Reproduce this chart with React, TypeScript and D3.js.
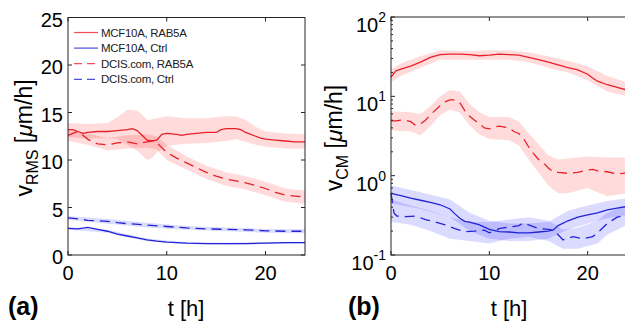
import React, { useEffect, useRef } from "react";
import * as d3 from "d3";

type Pt = [number, number];

// ---- panel (a): v_RMS, linear axis ----
const hourTicks = [0, 10, 20];
const rmsTicks = [0, 5, 10, 15, 20, 25];
const cmExponents = [-1, 0, 1, 2];

const mcfRabRms: Pt[] = [
  [0, 13.2], [0.5, 13.2], [1, 13.0], [1.5, 12.8], [2, 12.9], [3, 13.0], [4, 13.0], [5, 13.1],
  [6, 13.2], [6.5, 13.3], [7, 13.1], [7.5, 12.6], [8, 12.1], [8.5, 12.0], [9, 12.1], [9.5, 12.7],
  [10, 12.8], [11, 12.7], [11.5, 12.6], [12, 12.7], [13, 12.8], [14, 12.9], [15, 12.9], [15.5, 13.2],
  [16, 13.3], [17, 13.3], [17.5, 13.2], [18, 12.9], [19, 12.5], [19.5, 12.3], [20, 12.2], [21, 12.1],
  [22, 12.0], [23, 11.9], [24, 11.9],
];
const mcfRabRmsHi: Pt[] = [
  [0, 13.9], [2, 13.8], [4, 13.9], [5, 14.5], [6, 15.3], [7, 15.2], [7.5, 14.8], [8, 14.2], [9, 14.4],
  [10, 14.6], [12, 14.4], [14, 14.4], [15, 14.5], [16, 14.6], [17, 14.6], [18, 14.2], [19, 13.5],
  [20, 13.0], [22, 12.8], [24, 12.7],
];
const mcfRabRmsLo: Pt[] = [
  [0, 12.4], [2, 12.3], [4, 12.3], [5, 12.2], [6, 11.6], [7, 11.0], [8, 10.0], [8.5, 10.2], [9, 10.8],
  [10, 11.5], [12, 11.7], [14, 11.8], [15, 11.9], [16, 12.0], [17, 12.2], [18, 11.9], [19, 11.6],
  [20, 11.4], [22, 11.2], [24, 11.2],
];

const dcisRabRms: Pt[] = [
  [0, 12.6], [0.5, 12.8], [1, 13.0], [1.5, 12.6], [2, 12.2], [2.5, 11.9], [3, 11.7], [4, 11.6],
  [5, 11.8], [6, 11.9], [7, 11.7], [8, 11.9], [8.5, 12.0], [9, 11.8], [9.5, 11.3], [10, 10.8],
  [11, 10.2], [12, 9.7], [13, 9.2], [14, 8.7], [15, 8.3], [16, 8.0], [17, 7.8], [18, 7.6], [19, 7.3],
  [20, 7.0], [21, 6.6], [22, 6.3], [23, 6.2], [24, 6.1],
];
const dcisRabRmsHi: Pt[] = [
  [0, 13.2], [2, 12.8], [4, 12.3], [6, 12.6], [8, 12.7], [9, 12.5], [10, 11.6], [12, 10.4],
  [14, 9.4], [16, 8.7], [18, 8.3], [20, 7.7], [22, 7.0], [24, 6.8],
];
const dcisRabRmsLo: Pt[] = [
  [0, 12.0], [2, 11.6], [4, 11.0], [6, 11.2], [8, 11.3], [9, 11.1], [10, 10.0], [12, 9.0],
  [14, 8.0], [16, 7.3], [18, 6.9], [20, 6.3], [22, 5.6], [24, 5.4],
];

const mcfCtrlRms: Pt[] = [
  [0, 2.8], [1, 2.75], [2, 2.9], [3, 2.7], [4, 2.5], [5, 2.2], [6, 2.0], [7, 1.8], [8, 1.6],
  [9, 1.45], [10, 1.35], [12, 1.25], [14, 1.2], [16, 1.2], [18, 1.2], [20, 1.25], [22, 1.3], [24, 1.3],
];
const mcfCtrlRmsHi: Pt[] = [
  [0, 2.95], [4, 2.65], [8, 1.75], [12, 1.35], [16, 1.3], [20, 1.35], [24, 1.4],
];
const mcfCtrlRmsLo: Pt[] = [
  [0, 2.65], [4, 2.35], [8, 1.45], [12, 1.15], [16, 1.1], [20, 1.15], [24, 1.2],
];

const dcisCtrlRms: Pt[] = [
  [0, 3.9], [1, 3.8], [2, 3.65], [3, 3.6], [4, 3.55], [5, 3.4], [6, 3.3], [8, 3.15], [10, 3.0],
  [12, 2.85], [14, 2.75], [16, 2.7], [18, 2.65], [20, 2.55], [22, 2.5], [24, 2.5],
];
const dcisCtrlRmsHi: Pt[] = [
  [0, 4.1], [4, 3.8], [8, 3.4], [12, 3.05], [16, 2.9], [20, 2.75], [24, 2.7],
];
const dcisCtrlRmsLo: Pt[] = [
  [0, 3.7], [4, 3.3], [8, 2.9], [12, 2.65], [16, 2.5], [20, 2.35], [24, 2.3],
];

// ---- panel (b): v_CM, log axis ----
const mcfRabCm: Pt[] = [
  [0, 17.5], [0.5, 21], [1, 22], [2, 24], [3, 27], [4, 31], [5, 33.5], [6, 34], [7, 34], [8, 33.5],
  [9, 32.5], [10, 33], [11, 34], [12, 33.5], [13, 33], [14, 31], [15, 29], [16, 27], [17, 25],
  [18, 23], [19, 21.5], [20, 19], [20.5, 17], [21, 15.5], [22, 14], [23, 13], [24, 12],
];
const mcfRabCmHi: Pt[] = [
  [0, 22], [1, 26], [3, 32], [5, 38], [8, 37], [10, 38], [12, 38], [14, 36], [16, 32], [18, 28],
  [20, 24], [22, 18], [24, 15],
];
const mcfRabCmLo: Pt[] = [
  [0, 15], [1, 18], [3, 23], [5, 29], [8, 29], [10, 29], [12, 29], [14, 27], [16, 23], [18, 20],
  [20, 16], [22, 11.5], [24, 10],
];

const dcisRabCm: Pt[] = [
  [0, 4.9], [0.5, 4.9], [1, 5.0], [1.5, 5.0], [2, 4.8], [2.5, 4.3], [3, 4.5], [3.5, 5.0], [4, 5.8],
  [4.5, 6.7], [5, 7.6], [5.5, 8.5], [6, 9.0], [6.5, 9.0], [7, 8.3], [7.5, 6.6], [8, 5.6], [8.5, 5.0],
  [9, 4.5], [9.5, 4.0], [10, 3.9], [10.5, 4.1], [11, 4.2], [12, 4.0], [12.5, 3.6], [13, 3.4],
  [13.5, 2.9], [14, 2.3], [14.5, 1.9], [15, 1.6], [15.5, 1.45], [16, 1.25], [16.5, 1.12], [17, 1.1],
  [18, 1.07], [19, 1.1], [20, 1.18], [20.5, 1.2], [21, 1.15], [22, 1.12], [23, 1.05], [24, 1.08],
];
const dcisRabCmHi: Pt[] = [
  [0, 6.5], [2, 6.3], [3, 6.0], [4, 7.5], [5, 10], [6, 12], [7, 11.5], [8, 8], [9, 6.3], [10, 5.5],
  [12, 5.5], [13, 4.8], [14, 3.4], [15, 2.5], [16, 1.8], [17, 1.6], [18, 1.65], [20, 1.75],
  [22, 1.7], [24, 1.7],
];
const dcisRabCmLo: Pt[] = [
  [0, 3.7], [2, 3.6], [3, 3.2], [4, 4.2], [5, 5.8], [6, 6.8], [7, 6.2], [8, 4.3], [9, 3.3], [10, 2.9],
  [12, 2.8], [13, 2.4], [14, 1.6], [15, 1.1], [16, 0.75], [17, 0.6], [18, 0.6], [20, 0.7],
  [21, 0.62], [22, 0.55], [24, 0.6],
];

const mcfCtrlCm: Pt[] = [
  [0, 0.6], [1, 0.56], [2, 0.52], [3, 0.49], [4, 0.46], [5, 0.43], [6, 0.38], [6.5, 0.33], [7, 0.29],
  [7.5, 0.265], [8, 0.26], [9, 0.24], [9.5, 0.225], [10, 0.21], [11, 0.197], [12, 0.195], [13, 0.19],
  [14, 0.19], [15, 0.195], [16, 0.2], [16.5, 0.207], [17, 0.235], [18, 0.27], [19, 0.3], [20, 0.32],
  [21, 0.34], [22, 0.37], [23, 0.39], [24, 0.41],
];
const mcfCtrlCmHi: Pt[] = [
  [0, 0.75], [3, 0.62], [6, 0.5], [8, 0.34], [10, 0.27], [12, 0.25], [14, 0.25], [16, 0.26],
  [18, 0.36], [20, 0.42], [22, 0.48], [24, 0.52],
];
const mcfCtrlCmLo: Pt[] = [
  [0, 0.45], [3, 0.38], [6, 0.3], [8, 0.2], [10, 0.16], [12, 0.15], [14, 0.15], [16, 0.16],
  [18, 0.21], [20, 0.25], [22, 0.29], [24, 0.32],
];

const dcisCtrlCm: Pt[] = [
  [0, 0.6], [0.3, 0.34], [0.6, 0.31], [1.5, 0.305], [2.5, 0.31], [3.5, 0.28], [4.5, 0.26],
  [5.5, 0.24], [6.5, 0.215], [7.5, 0.197], [8.5, 0.2], [9.5, 0.205], [10, 0.19], [11, 0.215],
  [12, 0.225], [13, 0.235], [13.5, 0.255], [14, 0.24], [15, 0.215], [16, 0.21], [16.5, 0.205],
  [17, 0.18], [17.5, 0.155], [18.5, 0.17], [19.5, 0.16], [20.5, 0.17], [21, 0.19], [22, 0.25],
  [23, 0.3], [24, 0.32],
];
const dcisCtrlCmHi: Pt[] = [
  [0, 0.5], [2, 0.42], [4, 0.36], [6, 0.3], [8, 0.26], [10, 0.26], [12, 0.28], [14, 0.3], [16, 0.27],
  [17.5, 0.21], [19, 0.22], [21, 0.27], [22, 0.34], [24, 0.42],
];
const dcisCtrlCmLo: Pt[] = [
  [0, 0.26], [2, 0.24], [4, 0.2], [6, 0.16], [8, 0.15], [10, 0.14], [12, 0.16], [14, 0.17], [16, 0.15],
  [17.5, 0.12], [19, 0.12], [21, 0.14], [22, 0.18], [24, 0.24],
];

const legendNames = ["MCF10A, RAB5A", "MCF10A, Ctrl", "DCIS.com, RAB5A", "DCIS.com, Ctrl"];

const RED = "#e8202a";
const BLUE = "#2323d6";
const RED_BAND = "rgba(255,0,0,0.14)";
const BLUE_BAND = "rgba(0,0,255,0.14)";
const FONT = "Liberation Sans, Arial, Helvetica, sans-serif";

const App = () => {
  const ref = useRef<SVGSVGElement>(null);

  useEffect(() => {
    const width = 625;
    const height = 323;
    const svg = d3.select(ref.current);
    svg.selectAll("*").remove();
    svg.attr("width", width).attr("height", height);
    svg.append("rect").attr("width", width).attr("height", height).attr("fill", "#fff");

    const drawBand = (g, x, y, hi: Pt[], lo: Pt[], fill) => {
      // merge both edges on a common time grid
      const ts = Array.from(new Set([...hi.map((d) => d[0]), ...lo.map((d) => d[0])])).sort(
        (a, b) => a - b
      );
      const interp = (arr: Pt[], t: number) => {
        const i = d3.bisector((d: Pt) => d[0]).left(arr, t);
        if (i <= 0) return arr[0][1];
        if (i >= arr.length) return arr[arr.length - 1][1];
        const a = arr[i - 1];
        const b = arr[i];
        return a[1] + ((b[1] - a[1]) * (t - a[0])) / (b[0] - a[0]);
      };
      const rows = ts.map((t) => ({ t, hi: interp(hi, t), lo: interp(lo, t) }));
      g.append("path")
        .datum(rows)
        .attr("fill", fill)
        .attr(
          "d",
          d3
            .area<any>()
            .x((d) => x(d.t))
            .y0((d) => y(d.lo))
            .y1((d) => y(d.hi))
        );
    };

    const drawLine = (g, x, y, pts: Pt[], color, dash) => {
      g.append("path")
        .datum(pts)
        .attr("fill", "none")
        .attr("stroke", color)
        .attr("stroke-width", 1.3)
        .attr("stroke-dasharray", dash)
        .attr(
          "d",
          d3
            .line<Pt>()
            .x((d) => x(d[0]))
            .y((d) => y(d[1]))
        );
    };

    // ---------- panel (a) ----------
    const xa = d3.scaleLinear().domain([0, 24]).range([68, 305]);
    const ya = d3.scaleLinear().domain([0, 25]).range([255, 17.5]);
    const ga = svg.append("g");

    drawBand(ga, xa, ya, mcfRabRmsHi, mcfRabRmsLo, RED_BAND);
    drawBand(ga, xa, ya, dcisRabRmsHi, dcisRabRmsLo, RED_BAND);
    drawBand(ga, xa, ya, mcfCtrlRmsHi, mcfCtrlRmsLo, BLUE_BAND);
    drawBand(ga, xa, ya, dcisCtrlRmsHi, dcisCtrlRmsLo, BLUE_BAND);
    drawLine(ga, xa, ya, dcisRabRms, RED, "10,6");
    drawLine(ga, xa, ya, mcfRabRms, RED, null);
    drawLine(ga, xa, ya, dcisCtrlRms, BLUE, "10,6");
    drawLine(ga, xa, ya, mcfCtrlRms, BLUE, null);

    // frame + inward ticks
    ga.append("rect")
      .attr("x", 68)
      .attr("y", 17.5)
      .attr("width", 305 - 68)
      .attr("height", 255 - 17.5)
      .attr("fill", "none")
      .attr("stroke", "#262626")
      .attr("stroke-width", 1);
    hourTicks.forEach((t) => {
      ga.append("line").attr("x1", xa(t)).attr("x2", xa(t)).attr("y1", 255).attr("y2", 251).attr("stroke", "#262626");
      ga.append("line").attr("x1", xa(t)).attr("x2", xa(t)).attr("y1", 17.5).attr("y2", 21.5).attr("stroke", "#262626");
      ga.append("text")
        .attr("x", xa(t))
        .attr("y", 280)
        .attr("text-anchor", "middle")
        .attr("font-size", 20)
        .attr("font-family", FONT)
        .text(t);
    });
    rmsTicks.forEach((v) => {
      ga.append("line").attr("x1", 68).attr("x2", 72).attr("y1", ya(v)).attr("y2", ya(v)).attr("stroke", "#262626");
      ga.append("line").attr("x1", 305).attr("x2", 301).attr("y1", ya(v)).attr("y2", ya(v)).attr("stroke", "#262626");
      ga.append("text")
        .attr("x", 63)
        .attr("y", ya(v) + 9)
        .attr("text-anchor", "end")
        .attr("font-size", 20)
        .attr("font-family", FONT)
        .text(v);
    });

    // legend
    const legend = ga.append("g").attr("font-family", FONT).attr("font-size", 11.5);
    const legendStyle = [
      [RED, null],
      [BLUE, null],
      [RED, "8,5"],
      [BLUE, "8,5"],
    ];
    legendNames.forEach((name, i) => {
      const yy = 32.5 + i * 15.6;
      legend
        .append("line")
        .attr("x1", 74)
        .attr("x2", 98)
        .attr("y1", yy)
        .attr("y2", yy)
        .attr("stroke", legendStyle[i][0])
        .attr("stroke-opacity", 0.8)
        .attr("stroke-width", 1.2)
        .attr("stroke-dasharray", legendStyle[i][1]);
      legend
        .append("text")
        .attr("x", 101)
        .attr("y", yy + 4)
        .attr("fill", "#222")
        .attr("letter-spacing", -0.3)
        .text(name);
    });

    // ---------- panel (b) ----------
    const xb = d3.scaleLinear().domain([0, 24]).range([391, 627]);
    const yb = d3.scaleLog().domain([0.1, 100]).range([255, 17]);
    const gb = svg.append("g");

    drawBand(gb, xb, yb, mcfRabCmHi, mcfRabCmLo, RED_BAND);
    drawBand(gb, xb, yb, dcisRabCmHi, dcisRabCmLo, RED_BAND);
    drawBand(gb, xb, yb, mcfCtrlCmHi, mcfCtrlCmLo, BLUE_BAND);
    drawBand(gb, xb, yb, dcisCtrlCmHi, dcisCtrlCmLo, BLUE_BAND);
    drawLine(gb, xb, yb, dcisRabCm, RED, "10,6");
    drawLine(gb, xb, yb, mcfRabCm, RED, null);
    drawLine(gb, xb, yb, dcisCtrlCm, BLUE, "10,6");
    drawLine(gb, xb, yb, mcfCtrlCm, BLUE, null);

    gb.append("rect")
      .attr("x", 391)
      .attr("y", 17)
      .attr("width", 627 - 391)
      .attr("height", 255 - 17)
      .attr("fill", "none")
      .attr("stroke", "#262626")
      .attr("stroke-width", 1);
    hourTicks.forEach((t) => {
      gb.append("line").attr("x1", xb(t)).attr("x2", xb(t)).attr("y1", 255).attr("y2", 251).attr("stroke", "#262626");
      gb.append("line").attr("x1", xb(t)).attr("x2", xb(t)).attr("y1", 17).attr("y2", 21).attr("stroke", "#262626");
      gb.append("text")
        .attr("x", xb(t))
        .attr("y", 280)
        .attr("text-anchor", "middle")
        .attr("font-size", 20)
        .attr("font-family", FONT)
        .text(t);
    });
    cmExponents.forEach((e) => {
      const v = Math.pow(10, e);
      gb.append("line").attr("x1", 391).attr("x2", 395).attr("y1", yb(v)).attr("y2", yb(v)).attr("stroke", "#262626");
      if (e < 2) {
        for (let m = 2; m <= 9; m++) {
          gb.append("line")
            .attr("x1", 391)
            .attr("x2", 393)
            .attr("y1", yb(v * m))
            .attr("y2", yb(v * m))
            .attr("stroke", "#262626");
        }
      }
      const label = gb
        .append("text")
        .attr("x", 386)
        .attr("y", yb(v) + 15)
        .attr("text-anchor", "end")
        .attr("font-family", FONT)
        .attr("font-size", 20);
      label.append("tspan").text("10");
      label.append("tspan").attr("dy", -10).attr("font-size", 14).text(e);
    });

    // ---------- axis labels ----------
    const yLabel = (x: number, sub: string) => {
      const t = svg
        .append("text")
        .attr("transform", `translate(${x},138) rotate(-90)`)
        .attr("text-anchor", "middle")
        .attr("font-family", FONT)
        .attr("font-size", 23);
      t.append("tspan").text("v");
      t.append("tspan").attr("font-size", 16).attr("dy", 6).text(sub);
      t.append("tspan").attr("dy", -6).text(" [");
      t.append("tspan").attr("font-style", "italic").text("\u03bc");
      t.append("tspan").text("m/h]");
    };
    yLabel(32, "RMS");
    yLabel(342, "CM");

    [
      [186, "(a)", 8],
      [509, "(b)", 348],
    ].forEach(([cx, tag, tx]: any) => {
      svg
        .append("text")
        .attr("x", cx)
        .attr("y", 316)
        .attr("text-anchor", "middle")
        .attr("font-family", FONT)
        .attr("font-size", 22)
        .text("t [h]");
      svg
        .append("text")
        .attr("x", tx)
        .attr("y", 315)
        .attr("font-family", FONT)
        .attr("font-weight", "bold")
        .attr("font-size", 25)
        .text(tag);
    });
  }, []);

  return (
    <div style={{ position: "absolute", left: 0, top: 0 }}>
      <svg ref={ref} style={{ display: "block" }}></svg>
    </div>
  );
};

export default App;
